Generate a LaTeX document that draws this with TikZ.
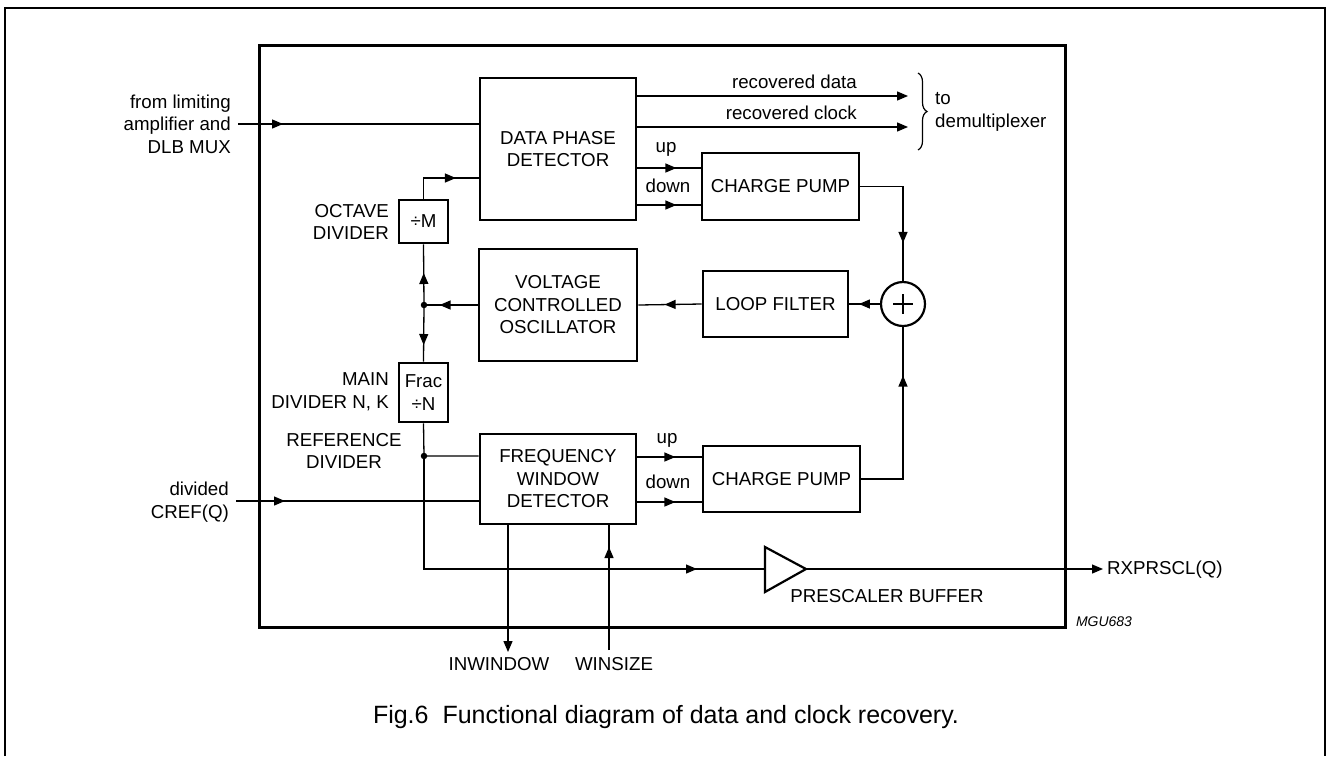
\documentclass[tikz,border=0pt]{standalone}
\usepackage{fontspec}
\setmainfont{Liberation Sans}
\usetikzlibrary{arrows.meta,decorations.markings,decorations.pathreplacing,calc}
\tikzset{
  txt/.style={font=\fontsize{18.7}{22.5}\selectfont, inner sep=0pt},
  blk/.style={draw, line width=2.8pt, align=center, inner sep=0pt, txt},
  conn/.style={line width=1.3pt},
  tip/.style={-{Triangle[length=11pt,width=9pt]}},
  midarr/.style={postaction={decorate},
    decoration={markings, mark=at position #1 with {\arrow{Triangle[length=11pt,width=9pt]}}}},
  dot/.style={circle, fill, inner sep=0pt, minimum size=6.5pt},
}
\begin{document}
\begin{tikzpicture}[x=1pt,y=-1pt]
\useasboundingbox (0,0) rectangle (1327,756);
% outer frame (bottom edge out of view)
\draw[line width=1.6pt] (5,756) -- (5,8) -- (1325,8) -- (1325,756);
% main box
\draw[line width=3pt] (259,45) rectangle (1065,627);

% blocks
\node[blk, minimum width=156pt, minimum height=142pt] (dpd) at (558,149) {DATA PHASE\\DETECTOR};
\node[blk, minimum width=157pt, minimum height=67pt] (cp1) at (780.5,186.5) {CHARGE PUMP};
\node[blk, minimum width=158pt, minimum height=112pt] (vco) at (558,305) {VOLTAGE\\CONTROLLED\\OSCILLATOR};
\node[blk, minimum width=145pt, minimum height=66pt] (lf) at (775.5,304) {LOOP FILTER};
\node[draw, circle, line width=2.2pt, minimum size=44pt, inner sep=0pt] (sum) at (903,304) {};
\draw[line width=1.6pt] ($(sum.center)+(-10,0)$) -- ($(sum.center)+(10,0)$)
  ($(sum.center)+(0,-10)$) -- ($(sum.center)+(0,10)$);
\node[blk, minimum width=49pt, minimum height=43pt] (divm) at (423.5,221.5) {÷M};
\node[blk, minimum width=49pt, minimum height=59pt] (frac) at (423.5,392.5) {Frac\\÷N};
\node[blk, minimum width=156pt, minimum height=90pt] (fwd) at (558,479) {FREQUENCY\\WINDOW\\DETECTOR};
\node[blk, minimum width=157pt, minimum height=66pt] (cp2) at (781.5,479) {CHARGE PUMP};

% prescaler buffer triangle
\coordinate (bufin) at (765,569);
\coordinate (bufout) at (806,569);
\draw[line width=2.2pt, line join=miter] (765,547) -- (bufout) -- (765,592) -- cycle;

% labels
\node[txt, anchor=east, align=right] (lin) at (231,124) {from limiting\\amplifier and\\DLB MUX};
\node[txt, anchor=east, align=right] (loct) at (389,222) {OCTAVE\\DIVIDER};
\node[txt, anchor=east, align=right] (lmain) at (389,392) {MAIN\\DIVIDER N, K};
\node[txt, align=center] (lref) at (344,451) {REFERENCE\\DIVIDER};
\node[txt, anchor=east, align=right] (lcref) at (229,502) {divided\\CREF(Q)};
\node[txt, anchor=base east] (lrd) at (857,88) {recovered data};
\node[txt, anchor=base east] (lrc) at (857,119) {recovered clock};
\node[txt, anchor=base] (lup1) at (666,152) {up};
\node[txt, anchor=base] (ldn1) at (668,192) {down};
\node[txt, anchor=base] (lup2) at (667,443) {up};
\node[txt, anchor=base] (ldn2) at (668,488) {down};
\node[txt, anchor=west, align=left] (ldemux) at (935,112) {to\\demultiplexer};
\node[txt] (lbuf) at (887,596) {PRESCALER BUFFER};
\node[txt, anchor=west] (lrx) at (1107,570) {RXPRSCL(Q)};
\node[txt] (linw) at (499,664) {INWINDOW};
\node[txt] (lwin) at (614,664) {WINSIZE};
\node[inner sep=0pt, font=\fontsize{14}{16}\selectfont\itshape] (lmgu) at (1104,622) {MGU683};
\node[inner sep=0pt, font=\fontsize{25}{30}\selectfont, anchor=base] (cap) at (666,723) {Fig.6\hspace{0.28em} Functional diagram of data and clock recovery.};

% coordinates for free ends and junctions
\coordinate (inA) at (238,124);
\coordinate (inB) at (236,501);
\coordinate (rdend) at (908,96);
\coordinate (rcend) at (908,127);
\coordinate (j1) at (424,305);
\coordinate (j2) at (424,456);
\coordinate (yclk) at (0,178);
\coordinate (rxend) at (1103,569);
\coordinate (inwend) at (508,652);
\coordinate (winst) at (609,650);

% brace
\draw[line width=1.2pt, decorate, decoration={brace, amplitude=9pt}] (918,73) -- (918,150);

% connectors
\draw[conn, midarr=45pt] (inA) -- (inA -| dpd.west);
\draw[conn, midarr=49pt] (inB) -- (inB -| fwd.west);
\draw[conn, tip] (rdend -| dpd.east) -- (rdend);
\draw[conn, tip] (rcend -| dpd.east) -- (rcend);
\draw[conn, midarr=53pt] (divm.north) |- (yclk -| dpd.west);
\draw[conn, midarr=39pt] (dpd.east |- cp1.west) ++(0,-18.5) coordinate (u1) -- (u1 -| cp1.west);
\draw[conn, midarr=39pt] (dpd.east |- cp1.west) ++(0,18.5) coordinate (d1) -- (d1 -| cp1.west);
\draw[conn, midarr=38pt] (fwd.east |- cp2.west) ++(0,-22) coordinate (u2) -- (u2 -| cp2.west);
\draw[conn, midarr=38pt] (fwd.east |- cp2.west) ++(0,23) coordinate (d2) -- (d2 -| cp2.west);
\draw[conn, midarr=99pt] (cp1.east) -| (sum.north);
\draw[conn, midarr=145pt] (cp2.east) -| (sum.south);
\draw[conn, midarr=21pt] (sum.west) -- (lf.east);
\draw[conn, midarr=37pt] (lf.west) -- (vco.east);
\draw[conn, midarr=38pt] (vco.west) -- (j1);
\draw[conn, midarr=32pt] (j1) -- (divm.south);
\draw[conn, midarr=40pt] (j1) -- (frac.north);
\draw[conn] (frac.south) -- (j2) -- (j2 -| fwd.west);
\draw[conn, midarr=-68pt] (j2) |- (bufin);
\draw[conn, tip] (bufout) -- (rxend);
\draw[conn, tip] (fwd.south -| inwend) -- (inwend);
\draw[conn, midarr=103pt] (winst) -- (winst |- fwd.south);
\node[dot] (dj1) at (j1) {};
\node[dot] (dj2) at (j2) {};
\end{tikzpicture}
\end{document}
